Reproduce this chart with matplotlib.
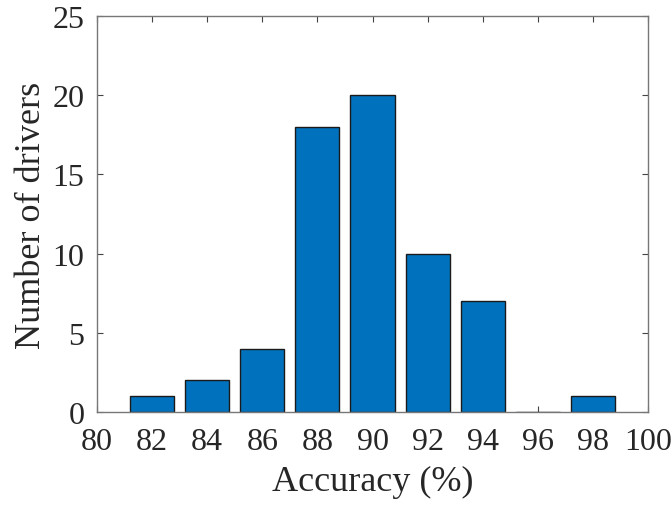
import matplotlib
matplotlib.use("Agg")
import matplotlib.pyplot as plt

centers = [82, 84, 86, 88, 90, 92, 94, 96, 98]
counts = [1, 2, 4, 18, 20, 10, 7, 0, 1]
xticks = [80, 82, 84, 86, 88, 90, 92, 94, 96, 98, 100]
yticks = [0, 5, 10, 15, 20, 25]

plt.rcParams['font.family'] = ['Liberation Serif', 'DejaVu Serif']
fig = plt.figure(figsize=(6.71, 5.10), dpi=100)
ax = fig.add_axes([0.1446, 0.190, 0.8211, 0.7767])
ax.bar(centers, counts, width=1.6, color='#0072BD', edgecolor='#1a1a1a', linewidth=1.0, zorder=2)
ax.set_xlim(80, 100)
ax.set_ylim(0, 25)
ax.set_xticks(xticks)
ax.set_yticks(yticks)
ax.tick_params(direction='in', length=4, width=0.8, labelsize=23, color='#444444',
               top=True, right=True, labelcolor='#262626')
ax.tick_params(axis='x', pad=11)
ax.tick_params(axis='y', pad=9)
for s in ax.spines.values():
    s.set_color('#777777')
    s.set_linewidth(1.0)
ax.set_xlabel('Accuracy (%)', fontsize=26, labelpad=6, color='#262626')
ax.set_ylabel('Number of drivers', fontsize=26, labelpad=3, color='#262626')
fig.savefig('out.png', dpi=100)
